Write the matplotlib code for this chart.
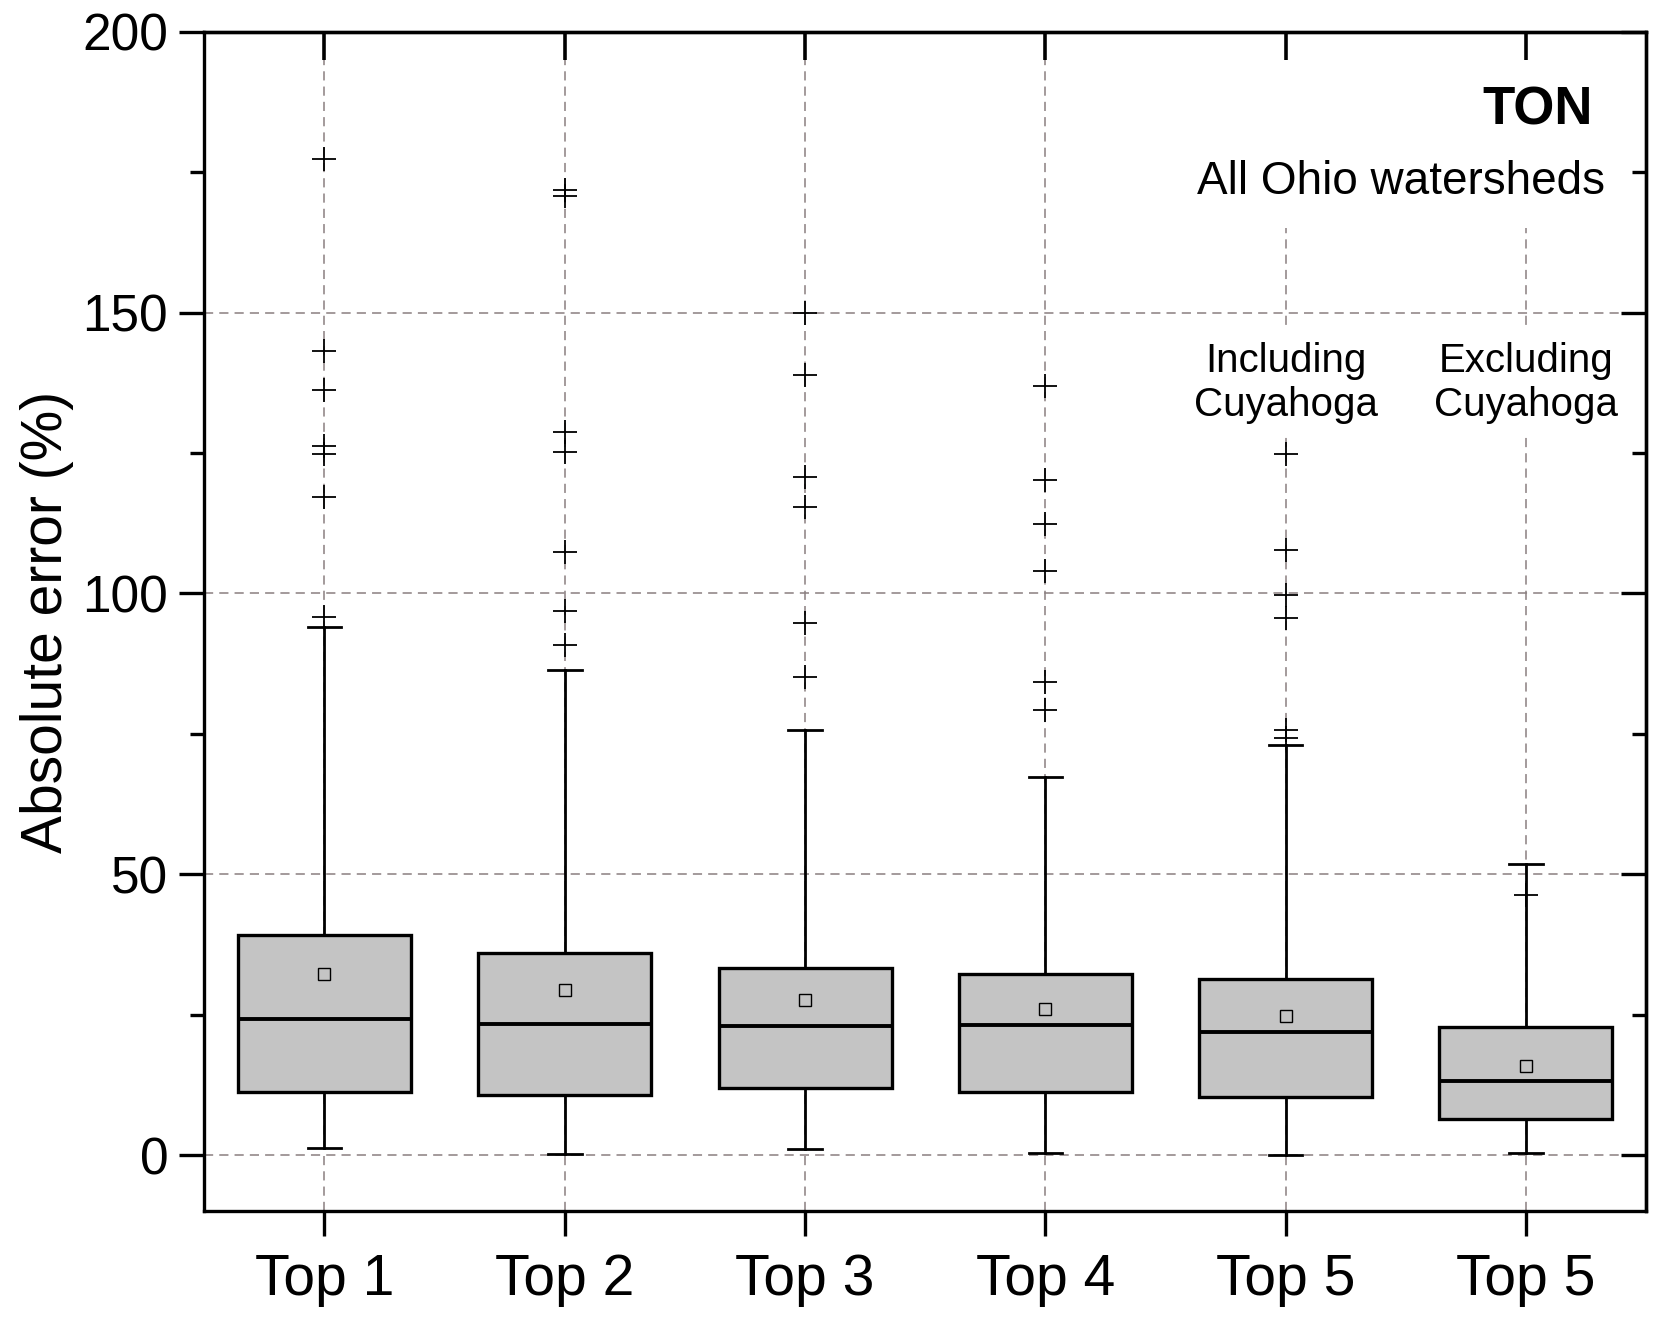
import matplotlib
matplotlib.use('Agg')
from matplotlib import pyplot as plt
from matplotlib.patches import Rectangle
from matplotlib.ticker import MultipleLocator

plt.rcParams['font.family'] = ['Liberation Sans', 'DejaVu Sans']

# 数据：箱线图的统计量
labels = ['Top 1', 'Top 2', 'Top 3', 'Top 4', 'Top 5', 'Top 5']
q1 = [11.3, 10.8, 11.9, 11.3, 10.4, 6.4]
med = [24.3, 23.4, 23.0, 23.2, 21.9, 13.2]
q3 = [39.2, 36.0, 33.4, 32.3, 31.3, 22.8]
mean = [32.3, 29.4, 27.7, 26.0, 24.7, 15.8]
whis_lo = [1.3, 0.2, 1.1, 0.4, 0.0, 0.4]
whis_hi = [94.0, 86.4, 75.7, 67.4, 73.0, 51.9]
fliers = [
    [177.4, 143.2, 136.2, 126.3, 124.8, 117.2, 95.8],
    [171.9, 170.8, 128.7, 125.1, 107.4, 96.8, 90.8],
    [150.0, 138.9, 120.8, 115.3, 94.7, 85.1],
    [137.0, 120.2, 112.3, 104.0, 84.2, 79.2],
    [124.9, 107.7, 99.8, 95.7, 75.7, 74.2],
    [46.4],
]

stats = []
for i in range(len(labels)):
    stats.append({
        'label': labels[i],
        'q1': q1[i], 'med': med[i], 'q3': q3[i], 'mean': mean[i],
        'whislo': whis_lo[i], 'whishi': whis_hi[i], 'fliers': fliers[i],
    })

positions = list(range(1, len(labels) + 1))

fig = plt.figure(figsize=(16.61, 13.21), dpi=100)
ax = fig.add_axes([0.123, 0.083, 0.868, 0.893])

ax.bxp(
    stats, positions=positions, widths=0.72, patch_artist=True,
    showmeans=True, capwidths=0.14,
    boxprops=dict(facecolor='#c4c4c4', edgecolor='black', linewidth=2.4),
    medianprops=dict(color='black', linewidth=2.8),
    whiskerprops=dict(color='black', linewidth=2.0),
    capprops=dict(color='black', linewidth=2.0),
    flierprops=dict(marker='+', markersize=17, markeredgecolor='black',
                    markeredgewidth=1.3, linestyle='none'),
    meanprops=dict(marker='s', markersize=9, markerfacecolor='none',
                   markeredgecolor='black', markeredgewidth=1.0),
)

ax.set_xlim(0.5, 6.5)
ax.set_ylim(-10, 200)
ax.set_xticks(positions)
ax.set_xticklabels(labels, fontsize=41)
ax.set_yticks([0, 50, 100, 150, 200])
ax.yaxis.set_minor_locator(MultipleLocator(25))
ax.tick_params(axis='y', labelsize=37)
ax.tick_params(which='major', direction='out', length=18, width=2.4, pad=8)
ax.tick_params(which='minor', direction='out', length=10, width=2.4)
ax.tick_params(axis='x', pad=12)
ax.set_ylabel('Absolute error (%)', fontsize=41, labelpad=6)

ax.set_axisbelow(True)
ax.grid(True, which='major', color='#8a7f80', linewidth=1.1, linestyle=(0, (6, 4)))

for s in ax.spines.values():
    s.set_linewidth(2.4)

# 顶部和右侧的镜像刻度（朝内）
top = ax.secondary_xaxis('top')
top.set_zorder(6)
top.set_xticks(positions)
top.set_xticklabels([])
top.tick_params(which='major', direction='in', length=20, width=2.6)
right = ax.secondary_yaxis('right')
right.set_zorder(6)
right.set_yticks([0, 50, 100, 150, 200])
right.yaxis.set_minor_locator(MultipleLocator(25))
right.set_yticklabels([])
right.tick_params(which='major', direction='in', length=18, width=2.4)
right.tick_params(which='minor', direction='in', length=10, width=2.4)
for s in list(top.spines.values()) + list(right.spines.values()):
    s.set_linewidth(2.4)

# 标题文字框的白色背景（遮住网格线）
ax.add_patch(Rectangle((0.685, 0.834), 0.30, 0.166, transform=ax.transAxes,
                       facecolor='white', edgecolor='none', zorder=0.8))

# 文字注释
ax.text(6.28, 186, 'TON', fontsize=38, fontweight='bold', ha='right', va='center')
ax.text(6.33, 173.2, 'All Ohio watersheds', fontsize=33, ha='right', va='center')
ax.text(5, 137.5, 'Including\nCuyahoga', fontsize=29, ha='center', va='center',
        linespacing=1.2, bbox=dict(facecolor='white', edgecolor='none', pad=8))
ax.text(6, 137.5, 'Excluding\nCuyahoga', fontsize=29, ha='center', va='center',
        linespacing=1.2, bbox=dict(facecolor='white', edgecolor='none', pad=8))

plt.savefig('out.png', dpi=100)
